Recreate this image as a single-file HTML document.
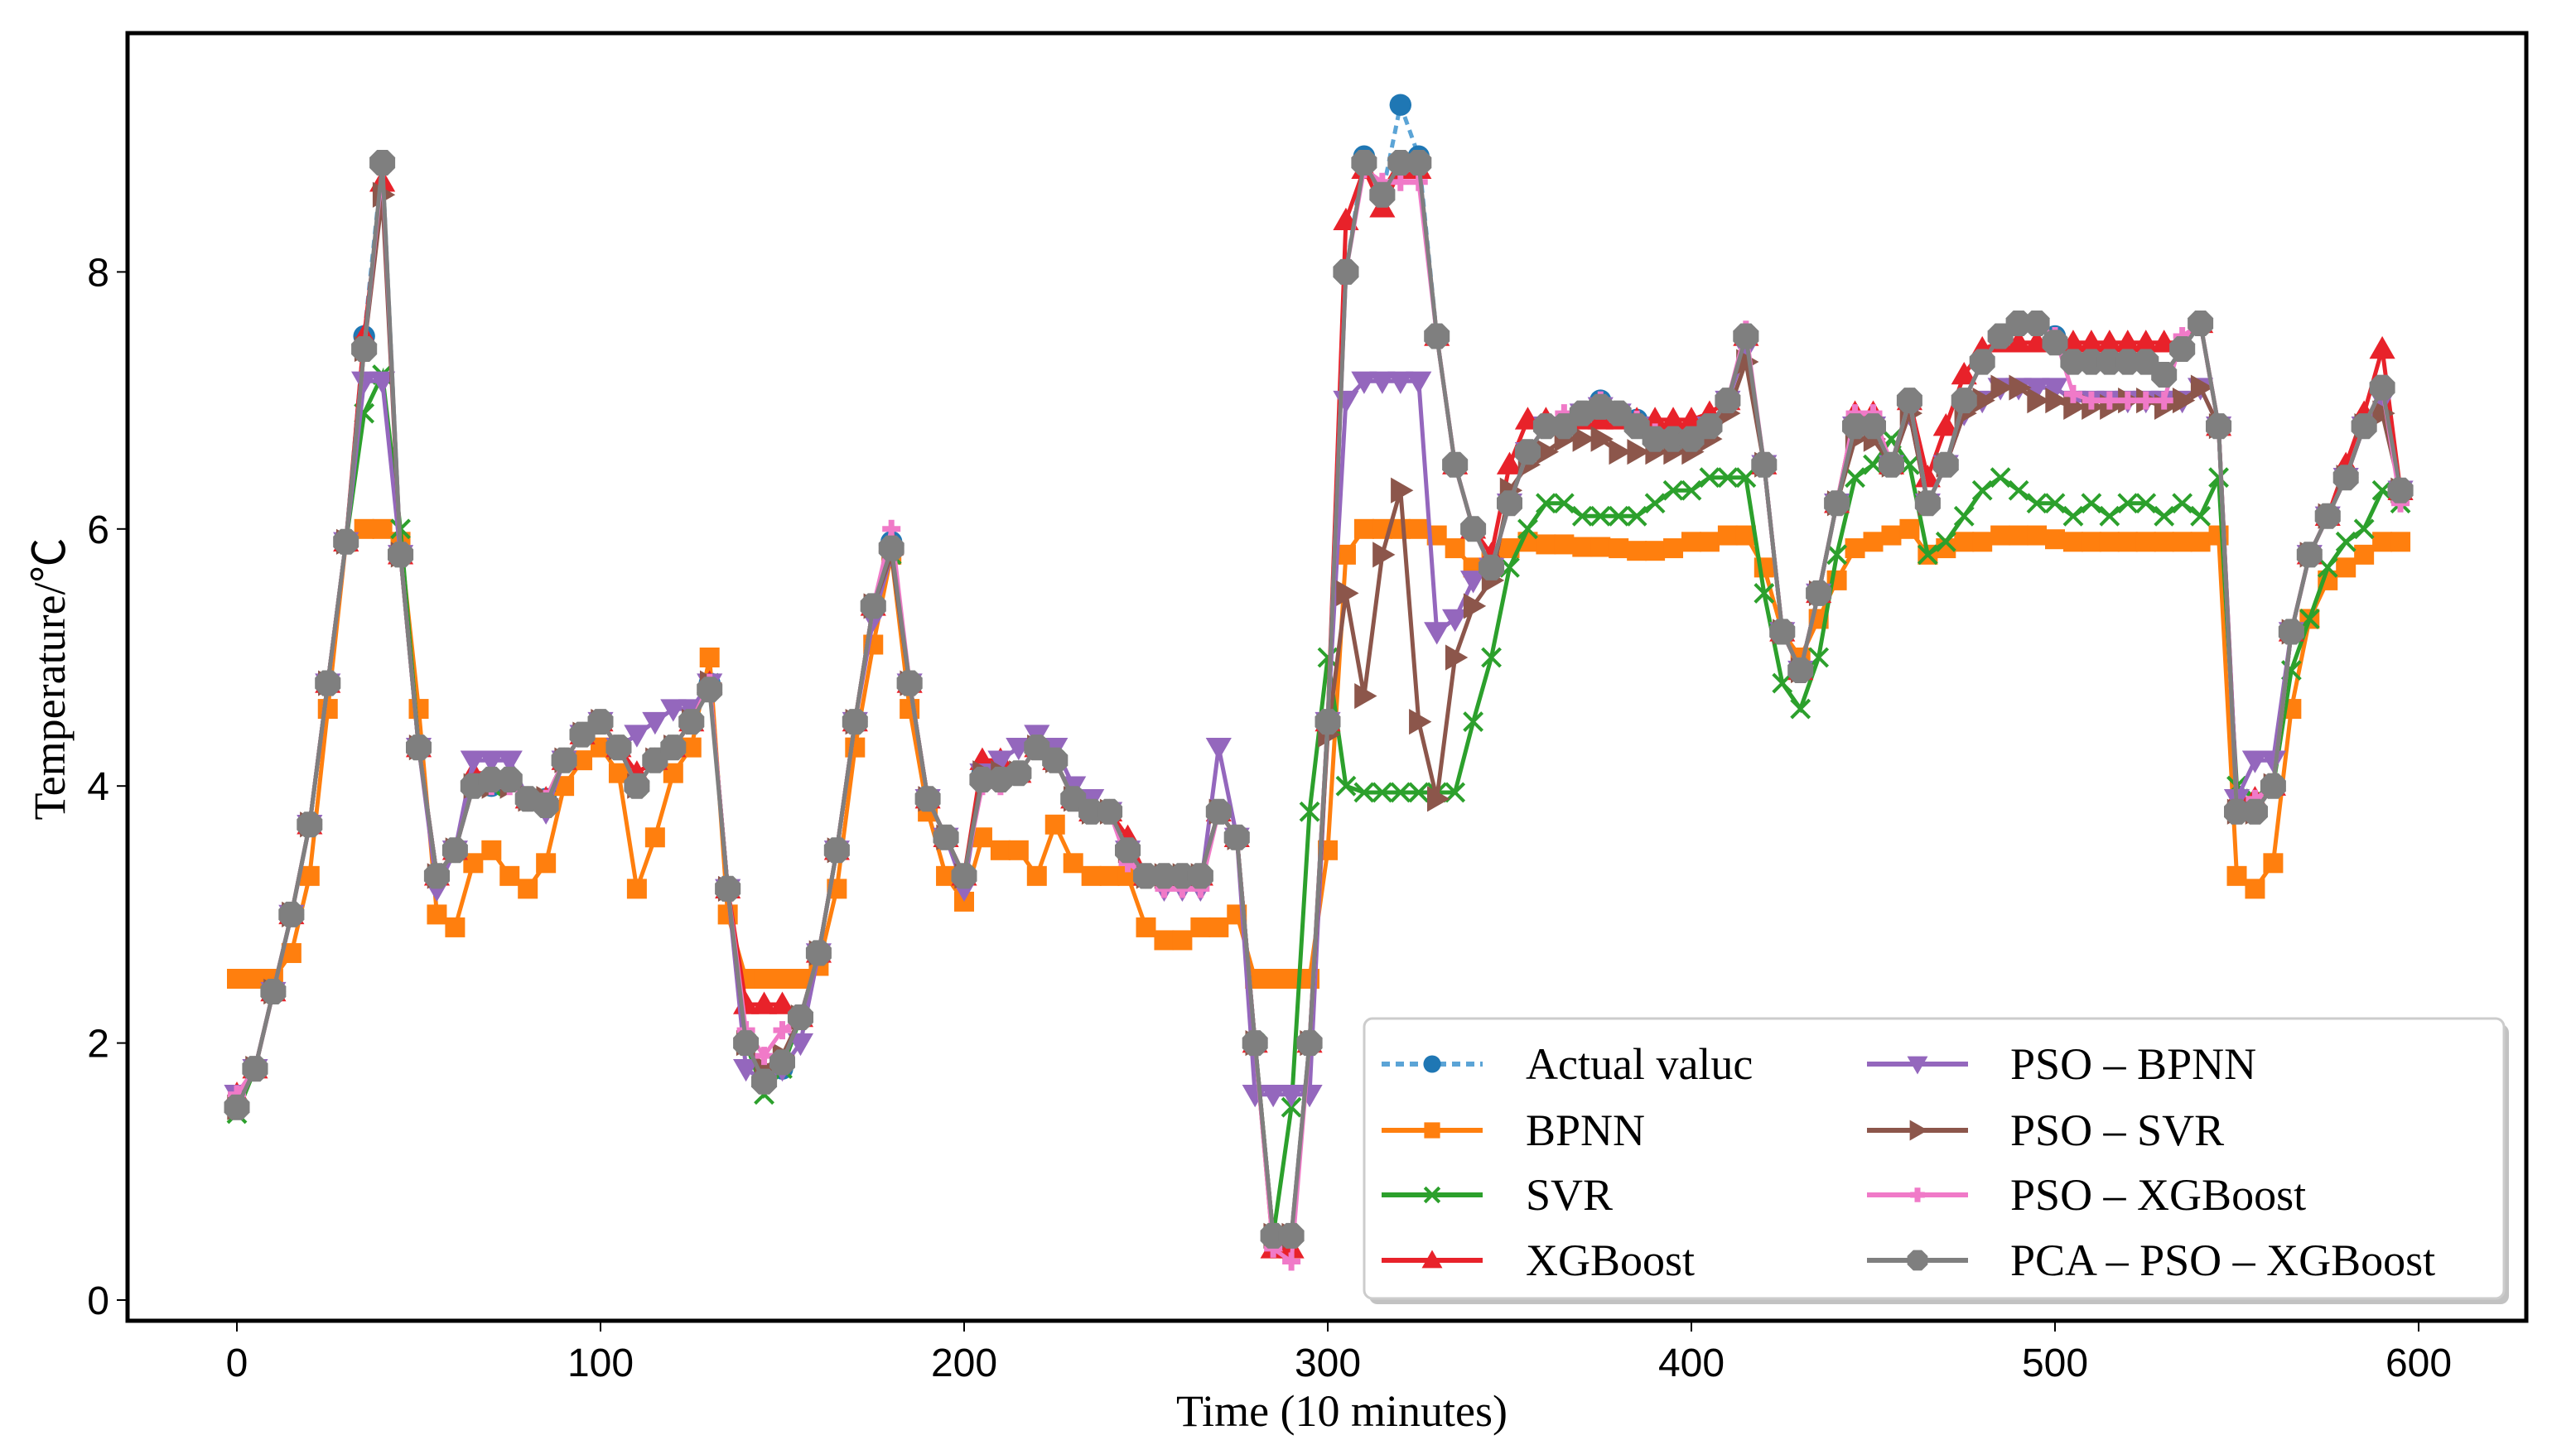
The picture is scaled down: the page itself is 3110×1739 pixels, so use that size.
<!DOCTYPE html>
<html><head><meta charset="utf-8"><style>
html,body{margin:0;padding:0;background:#fff}
svg{display:block}
</style></head><body>
<svg id="chart" width="3110" height="1739" viewBox="0 0 3110 1739" xmlns="http://www.w3.org/2000/svg">
<rect width="3110" height="1739" fill="#fff"/>
<g id="marks"></g>
<rect x="154" y="40" width="2896" height="1555" fill="none" stroke="#000" stroke-width="5"/>
<g id="xticks"></g>
<g id="yticks"></g>
<text x="1620" y="1722" font-family="Liberation Serif, serif" font-size="54" text-anchor="middle">Time (10 minutes)</text>
<text transform="translate(78,820) rotate(-90)" font-family="Liberation Serif, 'Noto Sans CJK SC', serif" font-size="54" text-anchor="middle">Temperature/℃</text>
<g id="legend">
<rect x="1653" y="1237" width="1376" height="338" rx="10" fill="#999" opacity="0.6"/>
<rect x="1647" y="1230" width="1376" height="338" rx="10" fill="#fff" stroke="#ccc" stroke-width="3"/>
</g>
</svg>
<script>
const times = [];
for (let t = 0; t <= 595; t += 5) times.push(t);
const seriesNames = ["Actual valuc","BPNN","SVR","XGBoost","PSO – BPNN","PSO – SVR","PSO – XGBoost","PCA – PSO – XGBoost"];
const xTicks = [0,100,200,300,400,500,600];
const yTicks = [0,2,4,6,8];
const actual = [1.5,1.8,2.4,3.0,3.7,4.8,5.9,7.5,8.85,5.8, 4.3,3.3,3.5,4.0,4.0,4.05,3.9,3.9,4.2,4.4, 4.5,4.3,4.0,4.2,4.3,4.5,4.8,3.2,2.0,1.7, 1.8,2.2,2.7,3.5,4.5,5.4,5.9,4.8,3.9,3.6, 3.3,4.1,4.1,4.1,4.3,4.2,3.9,3.8,3.8,3.5, 3.3,3.3,3.3,3.3,3.8,3.6,2.0,0.5,0.5,2.0, 4.5,8.0,8.9,8.6,9.3,8.9,7.5,6.5,6.0,5.7, 6.2,6.6,6.8,6.8,6.9,7.0,6.9,6.85,6.75,6.7, 6.7,6.8,7.0,7.5,6.5,5.2,4.9,5.5,6.2,6.8, 6.8,6.5,7.0,6.2,6.5,7.0,7.3,7.5,7.6,7.6, 7.5,7.3,7.3,7.3,7.3,7.3,7.2,7.4,7.6,6.8, 3.8,3.8,4.0,5.2,5.8,6.1,6.4,6.8,7.1,6.3];
const bpnn = [2.5,2.5,2.5,2.7,3.3,4.6,5.9,6.0,6.0,5.9, 4.6,3.0,2.9,3.4,3.5,3.3,3.2,3.4,4.0,4.2, 4.3,4.1,3.2,3.6,4.1,4.3,5.0,3.0,2.5,2.5, 2.5,2.5,2.6,3.2,4.3,5.1,5.8,4.6,3.8,3.3, 3.1,3.6,3.5,3.5,3.3,3.7,3.4,3.3,3.3,3.3, 2.9,2.8,2.8,2.9,2.9,3.0,2.5,2.5,2.5,2.5, 3.5,5.8,6.0,6.0,6.0,6.0,5.95,5.85,5.7,5.75, 5.85,5.9,5.88,5.88,5.86,5.86,5.85,5.83,5.83,5.85, 5.9,5.9,5.95,5.95,5.7,5.2,5.0,5.3,5.6,5.85, 5.9,5.95,6.0,5.8,5.85,5.9,5.9,5.95,5.95,5.95, 5.92,5.9,5.9,5.9,5.9,5.9,5.9,5.9,5.9,5.95, 3.3,3.2,3.4,4.6,5.3,5.6,5.7,5.8,5.9,5.9];
const svr = [1.45,1.8,2.4,3.0,3.7,4.8,5.9,6.9,7.2,6.0, 4.3,3.3,3.5,4.0,4.0,4.05,3.9,3.9,4.2,4.4, 4.5,4.3,4.0,4.2,4.3,4.5,4.8,3.2,2.0,1.6, 1.8,2.2,2.7,3.5,4.5,5.4,5.8,4.8,3.9,3.6, 3.3,4.1,4.1,4.1,4.3,4.2,3.9,3.8,3.8,3.5, 3.3,3.3,3.3,3.3,3.8,3.6,2.0,0.5,1.5,3.8, 5.0,4.0,3.95,3.95,3.95,3.95,3.95,3.95,4.5,5.0, 5.7,6.0,6.2,6.2,6.1,6.1,6.1,6.1,6.2,6.3, 6.3,6.4,6.4,6.4,5.5,4.8,4.6,5.0,5.8,6.4, 6.5,6.7,6.5,5.8,5.9,6.1,6.3,6.4,6.3,6.2, 6.2,6.1,6.2,6.1,6.2,6.2,6.1,6.2,6.1,6.4, 4.0,3.9,4.0,4.9,5.3,5.7,5.9,6.0,6.3,6.2];
const xgb = [1.6,1.8,2.4,3.0,3.7,4.8,5.9,7.5,8.7,5.8, 4.3,3.3,3.5,4.1,4.1,4.1,3.9,3.9,4.2,4.4, 4.5,4.3,4.1,4.2,4.3,4.5,4.8,3.2,2.3,2.3, 2.3,2.2,2.7,3.5,4.5,5.4,5.9,4.8,3.9,3.6, 3.3,4.2,4.2,4.1,4.3,4.2,3.9,3.8,3.8,3.6, 3.3,3.3,3.3,3.3,3.8,3.6,2.0,0.4,0.4,2.0, 4.5,8.4,8.8,8.5,8.8,8.8,7.5,6.5,6.0,5.8, 6.5,6.85,6.85,6.85,6.85,6.85,6.85,6.85,6.85,6.85, 6.85,6.9,7.0,7.5,6.5,5.2,4.9,5.5,6.2,6.9, 6.9,6.5,7.0,6.4,6.8,7.2,7.4,7.45,7.45,7.45, 7.45,7.45,7.45,7.45,7.45,7.45,7.45,7.45,7.6,6.8, 3.9,3.9,4.0,5.2,5.8,6.1,6.5,6.9,7.4,6.3];
const psoBpnn = [1.6,1.8,2.4,3.0,3.7,4.8,5.9,7.15,7.15,5.8, 4.3,3.2,3.5,4.2,4.2,4.2,3.9,3.8,4.2,4.4, 4.5,4.3,4.4,4.5,4.6,4.6,4.8,3.2,1.8,1.7, 1.8,2.0,2.7,3.5,4.5,5.3,5.8,4.8,3.9,3.6, 3.2,4.1,4.2,4.3,4.4,4.3,4.0,3.9,3.8,3.5, 3.3,3.2,3.2,3.2,4.3,3.6,1.6,1.6,1.6,1.6, 4.5,7.0,7.15,7.15,7.15,7.15,5.2,5.3,5.6,5.7, 6.2,6.6,6.8,6.8,6.9,6.95,6.9,6.8,6.7,6.7, 6.7,6.8,7.0,7.4,6.5,5.2,4.9,5.5,6.2,6.8, 6.8,6.5,6.9,6.2,6.5,6.9,7.0,7.1,7.1,7.1, 7.1,7.0,7.0,7.0,7.0,7.0,7.0,7.0,7.1,6.8, 3.9,4.2,4.2,5.2,5.8,6.1,6.4,6.8,7.0,6.3];
const psoSvr = [1.5,1.8,2.4,3.0,3.7,4.8,5.9,7.4,8.6,5.8, 4.3,3.3,3.5,4.0,4.0,4.0,3.9,3.9,4.2,4.4, 4.5,4.3,4.0,4.2,4.3,4.5,4.8,3.2,2.0,1.8, 1.9,2.2,2.7,3.5,4.5,5.4,5.8,4.8,3.9,3.6, 3.3,4.1,4.1,4.1,4.3,4.2,3.9,3.8,3.8,3.5, 3.3,3.3,3.3,3.3,3.8,3.6,2.0,0.5,0.5,2.0, 4.4,5.5,4.7,5.8,6.3,4.5,3.9,5.0,5.4,5.6, 6.3,6.5,6.6,6.7,6.7,6.7,6.6,6.6,6.6,6.6, 6.6,6.7,6.9,7.3,6.5,5.2,4.9,5.5,6.2,6.7, 6.7,6.5,6.9,6.2,6.5,6.9,7.0,7.1,7.1,7.0, 7.0,6.95,6.95,6.95,7.0,7.0,6.95,7.0,7.1,6.8, 3.8,3.8,4.0,5.2,5.8,6.1,6.4,6.8,6.9,6.3];
const psoXgb = [1.6,1.8,2.4,3.0,3.7,4.8,5.9,7.4,8.8,5.8, 4.3,3.3,3.5,4.0,4.0,4.0,3.9,3.9,4.2,4.4, 4.5,4.3,4.0,4.2,4.3,4.5,4.8,3.2,2.1,1.9, 2.1,2.2,2.7,3.5,4.5,5.4,6.0,4.8,3.9,3.6, 3.3,4.0,4.0,4.1,4.3,4.2,3.9,3.8,3.8,3.4, 3.3,3.2,3.2,3.2,3.8,3.6,2.0,0.4,0.3,2.0, 4.5,8.0,8.8,8.7,8.7,8.7,7.5,6.5,6.0,5.7, 6.2,6.6,6.8,6.9,6.9,7.0,6.9,6.85,6.75,6.7, 6.7,6.8,7.0,7.55,6.5,5.2,4.9,5.5,6.2,6.9, 6.9,6.5,7.0,6.2,6.5,7.0,7.3,7.5,7.6,7.6, 7.5,7.05,7.0,7.0,7.0,7.0,7.0,7.5,7.6,6.8, 3.8,3.9,4.0,5.2,5.8,6.1,6.4,6.8,7.1,6.2];
const pcaPsoXgb = [1.5,1.8,2.4,3.0,3.7,4.8,5.9,7.4,8.85,5.8, 4.3,3.3,3.5,4.0,4.05,4.05,3.9,3.85,4.2,4.4, 4.5,4.3,4.0,4.2,4.3,4.5,4.75,3.2,2.0,1.7, 1.85,2.2,2.7,3.5,4.5,5.4,5.85,4.8,3.9,3.6, 3.3,4.05,4.05,4.1,4.3,4.2,3.9,3.8,3.8,3.5, 3.3,3.3,3.3,3.3,3.8,3.6,2.0,0.5,0.5,2.0, 4.5,8.0,8.85,8.6,8.85,8.85,7.5,6.5,6.0,5.7, 6.2,6.6,6.8,6.8,6.9,6.95,6.9,6.8,6.7,6.7, 6.7,6.8,7.0,7.5,6.5,5.2,4.9,5.5,6.2,6.8, 6.8,6.5,7.0,6.2,6.5,7.0,7.3,7.5,7.6,7.6, 7.45,7.3,7.3,7.3,7.3,7.3,7.2,7.4,7.6,6.8, 3.8,3.8,4.0,5.2,5.8,6.1,6.4,6.8,7.1,6.3];

const NS = "http://www.w3.org/2000/svg";
const X0 = 286, XU = 4.39, Y0 = 1570, YU = 155.2;
function xs(t){ return X0 + t*XU; }
function ys(v){ return Y0 - v*YU; }
function el(tag, attrs, parent){
  const e = document.createElementNS(NS, tag);
  for (const k in attrs) e.setAttribute(k, attrs[k]);
  parent.appendChild(e);
  return e;
}
function markerShape(kind, cx, cy, s, color, parent){
  let e;
  if (kind === "circle") e = el("circle", {cx:cx, cy:cy, r:s*0.55, fill:color}, parent);
  else if (kind === "square") e = el("rect", {x:cx-s*0.5, y:cy-s*0.5, width:s, height:s, fill:color}, parent);
  else if (kind === "x") e = el("path", {d:`M${cx-s/2},${cy-s/2}L${cx+s/2},${cy+s/2}M${cx-s/2},${cy+s/2}L${cx+s/2},${cy-s/2}`, stroke:color, "stroke-width":4, fill:"none"}, parent);
  else if (kind === "tup") e = el("polygon", {points:`${cx},${cy-s*0.6} ${cx-s*0.6},${cy+s*0.45} ${cx+s*0.6},${cy+s*0.45}`, fill:color}, parent);
  else if (kind === "tdown") e = el("polygon", {points:`${cx},${cy+s*0.6} ${cx-s*0.6},${cy-s*0.45} ${cx+s*0.6},${cy-s*0.45}`, fill:color}, parent);
  else if (kind === "tright") e = el("polygon", {points:`${cx+s*0.6},${cy} ${cx-s*0.45},${cy-s*0.6} ${cx-s*0.45},${cy+s*0.6}`, fill:color}, parent);
  else if (kind === "star") e = el("path", {d:`M${cx-s/2},${cy}L${cx+s/2},${cy}M${cx},${cy-s/2}L${cx},${cy+s/2}`, stroke:color, "stroke-width":7, fill:"none"}, parent);
  else e = el("polygon", {points:(()=>{let p=[];for(let i=0;i<8;i++){const a=Math.PI/4*i+Math.PI/8;p.push((cx+Math.cos(a)*s*0.6).toFixed(1)+","+(cy+Math.sin(a)*s*0.6).toFixed(1));}return p.join(" ");})(), fill:color}, parent);
  return e;
}
const series = [
  {name:"actual-value", vals:actual, color:"#1f77b4", line:"#5ba4d6", dash:"10,7", mk:"circle", size:24},
  {name:"bpnn", vals:bpnn, color:"#ff7f0e", line:"#ff7f0e", dash:"", mk:"square", size:24},
  {name:"svr", vals:svr, color:"#2ca02c", line:"#2ca02c", dash:"", mk:"x", size:22},
  {name:"xgboost", vals:xgb, color:"#e8222a", line:"#e8222a", dash:"", mk:"tup", size:26},
  {name:"pso-bpnn", vals:psoBpnn, color:"#9467bd", line:"#9467bd", dash:"", mk:"tdown", size:26},
  {name:"pso-svr", vals:psoSvr, color:"#8c564b", line:"#8c564b", dash:"", mk:"tright", size:26},
  {name:"pso-xgboost", vals:psoXgb, color:"#f07ac8", line:"#f07ac8", dash:"", mk:"star", size:22},
  {name:"pca-pso-xgboost", vals:pcaPsoXgb, color:"#7f7f7f", line:"#7f7f7f", dash:"", mk:"oct", size:28}
];
const marks = document.getElementById("marks");
series.forEach(s => {
  const g = el("g", {}, marks);
  
  
  const d = s.vals.map((v,i) => (i?"L":"M") + xs(times[i]).toFixed(1) + "," + ys(v).toFixed(1)).join("");
  const path = el("path", {d:d, fill:"none", stroke:s.line, "stroke-width":5, "stroke-dasharray":s.dash}, g);
  
  
  s.vals.forEach((v,i) => {
    const m = markerShape(s.mk, xs(times[i]), ys(v), s.size, s.color, g);
    
    
  });
});
const xg = document.getElementById("xticks");
xTicks.forEach(t => {
  const ln = el("line", {x1:xs(t), x2:xs(t), y1:1597, y2:1608, stroke:"#000", "stroke-width":2}, xg);
  
  
  const tx = el("text", {x:xs(t), y:1662, "font-family":"Liberation Sans, sans-serif", "font-size":48, "text-anchor":"middle"}, xg);
  tx.textContent = t;
  
  
});
const yg = document.getElementById("yticks");
yTicks.forEach(v => {
  const ln = el("line", {x1:141, x2:152, y1:ys(v), y2:ys(v), stroke:"#000", "stroke-width":2}, yg);
  
  
  const tx = el("text", {x:132, y:ys(v)+17, "font-family":"Liberation Sans, sans-serif", "font-size":48, "text-anchor":"end"}, yg);
  tx.textContent = v;
  
  
});
const lg = document.getElementById("legend");
const rowsY = [1285, 1365, 1443, 1522];
series.forEach((s,i) => {
  const col = i < 4 ? 0 : 1, row = i % 4;
  const hx = col ? 2254 : 1668, tx = col ? 2427 : 1842, y = rowsY[row];
  const g = el("g", {}, lg);
  
  
  el("line", {x1:hx, x2:hx+122, y1:y, y2:y, stroke:s.line, "stroke-width":6, "stroke-dasharray":s.dash}, g);
  markerShape(s.mk, hx+61, y, s.size*0.8, s.color, g);
  const t = el("text", {x:tx, y:y+18, "font-family":"Liberation Serif, serif", "font-size":54}, g);
  t.textContent = seriesNames[i];
});
</script>
</body></html>
